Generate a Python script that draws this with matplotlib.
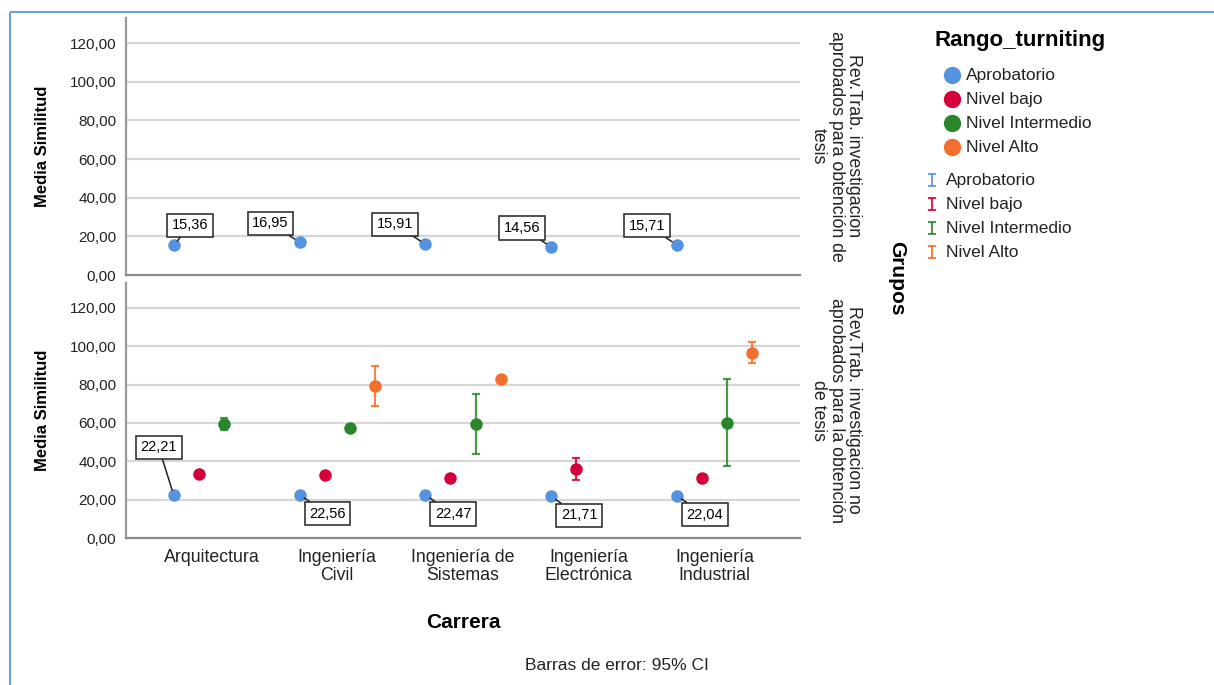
import numpy as np
import matplotlib
matplotlib.use("Agg")
import matplotlib.pyplot as plt
from matplotlib.patches import Rectangle

plt.rcParams['font.family'] = ['Liberation Sans', 'DejaVu Sans']

# data
carreras = ["Arquitectura", "Ingeniería\nCivil", "Ingeniería de\nSistemas",
            "Ingeniería\nElectrónica", "Ingeniería\nIndustrial"]
niveles = ["Aprobatorio", "Nivel bajo", "Nivel Intermedio", "Nivel Alto"]
colores = ["#5593e0", "#d4003a", "#2b862b", "#f2702d"]

# panel 1: aprobados
top_medias = {
    "Aprobatorio": [15.36, 16.95, 15.91, 14.56, 15.71],
}
# panel 2: no aprobados
bot_medias = {
    "Aprobatorio": [22.21, 22.56, 22.47, 21.71, 22.04],
    "Nivel bajo": [33.3, 32.9, 31.2, 35.9, 31.3],
    "Nivel Intermedio": [59.4, 57.6, 59.4, np.nan, 59.9],
    "Nivel Alto": [np.nan, 79.2, 82.9, np.nan, 96.6],
}
bot_ci_low = {
    "Nivel bajo": [np.nan, np.nan, np.nan, 30.1, np.nan],
    "Nivel Intermedio": [56.3, np.nan, 43.7, np.nan, 37.6],
    "Nivel Alto": [np.nan, 68.6, np.nan, np.nan, 91.4],
}
bot_ci_high = {
    "Nivel bajo": [np.nan, np.nan, np.nan, 41.9, np.nan],
    "Nivel Intermedio": [62.4, np.nan, 75.0, np.nan, 82.9],
    "Nivel Alto": [np.nan, 89.8, np.nan, np.nan, 102.2],
}
yticks = [0, 20, 40, 60, 80, 100, 120]

W, H = 1214, 685
def fx(x):
    return x / W
def fy(y):
    return 1 - y / H

fig = plt.figure(figsize=(W / 100, H / 100), dpi=100)

ax_top = fig.add_axes([fx(126), fy(275), fx(800) - fx(126), fy(18) - fy(275)])
ax_bot = fig.add_axes([fx(126), fy(538), fx(800) - fx(126), fy(283) - fy(538)])

offsets = [-0.3, -0.1, 0.1, 0.3]
xc = np.arange(len(carreras))

def fmt(v):
    return f"{v:.2f}".replace(".", ",")

def style(ax):
    ax.set_xlim(-0.68, 4.68)
    ax.set_ylim(0, 133)
    ax.set_yticks(yticks)
    ax.set_yticklabels([fmt(t) for t in yticks], fontsize=11, color="#222222")
    for t in yticks[1:]:
        ax.axhline(t, color="#d6d6d6", lw=1.6, zorder=0)
    for s in ["top", "right"]:
        ax.spines[s].set_visible(False)
    ax.spines["left"].set_color("#9a9a9a")
    ax.spines["bottom"].set_color("#8a8a8a")
    ax.spines["left"].set_linewidth(1.6)
    ax.spines["bottom"].set_linewidth(1.6)
    ax.tick_params(length=0, pad=7)
    ax.set_ylabel("Media Similitud", fontsize=12, fontweight="bold", labelpad=14)

def draw(ax, medias, lo=None, hi=None):
    for i, nv in enumerate(niveles):
        if nv not in medias:
            continue
        x = xc + offsets[i]
        y = np.array(medias[nv], dtype=float)
        if lo is not None and nv in lo:
            l = np.array(lo[nv]); h = np.array(hi[nv])
            m = ~np.isnan(l)
            ax.errorbar(x[m], y[m], yerr=[y[m] - l[m], h[m] - y[m]], fmt="none",
                        ecolor=colores[i], elinewidth=1.6, capsize=3, capthick=1.6,
                        alpha=0.85, zorder=3)
        ax.plot(x, y, "o", color=colores[i], markersize=9, markeredgewidth=0, zorder=4)

def labels(ax, vals, offs):
    for k, v in enumerate(vals):
        ax.annotate(fmt(v), xy=(xc[k] + offsets[0], v), xytext=offs[k],
                    textcoords="offset pixels", ha="center", va="center", fontsize=10.5,
                    bbox=dict(boxstyle="square,pad=0.32", fc="white", ec="#222222", lw=1.1),
                    arrowprops=dict(arrowstyle="-", color="#222222", lw=1.1,
                                    shrinkA=0, shrinkB=4), zorder=6)

style(ax_top)
style(ax_bot)
ax_top.set_xticks([])
ax_bot.set_xticks(xc)
ax_bot.set_xticklabels(carreras, fontsize=12.8, linespacing=1.05, color="#222222")
ax_bot.tick_params(axis="x", pad=8)

draw(ax_top, top_medias)
draw(ax_bot, bot_medias, bot_ci_low, bot_ci_high)

labels(ax_top, top_medias["Aprobatorio"], [(16, 20), (-29, 19), (-30, 20), (-29, 19), (-30, 19)])
labels(ax_bot, bot_medias["Aprobatorio"], [(-15, 48), (28, -19), (28, -19), (28, -19), (28, -19)])

# strip labels
fig.text(fx(836), fy(146), "Rev.Trab. investigacion\naprobados para obtención de\ntesis",
         rotation=270, ha="center", va="center", multialignment="center",
         fontsize=12.8, linespacing=1.02, color="#222222")
fig.text(fx(836), fy(410), "Rev.Trab. investigacion no\naprobados para la obtención\nde tesis",
         rotation=270, ha="center", va="center", multialignment="center",
         fontsize=12.8, linespacing=1.02, color="#222222")
fig.text(fx(897), fy(278), "Grupos", rotation=270, ha="center", va="center",
         fontsize=15, fontweight="bold")

fig.text(fx(463), fy(622), "Carrera", ha="center", va="center", fontsize=15, fontweight="bold")
fig.text(fx(617), fy(665), "Barras de error: 95% CI", ha="center", va="center",
         fontsize=12.5, color="#222222")

# legend drawn in pixel space
lax = fig.add_axes([0, 0, 1, 1])
lax.set_xlim(0, W)
lax.set_ylim(H, 0)
lax.axis("off")
lax.text(1020, 40, "Rango_turniting", ha="center", va="center", fontsize=16, fontweight="bold")
for i, nv in enumerate(niveles):
    yy = 75 + 24 * i
    lax.plot(952, yy, "o", color=colores[i], markersize=12.5, markeredgewidth=0)
    lax.text(966, yy, nv, ha="left", va="center", fontsize=12.5, color="#222222")
for i, nv in enumerate(niveles):
    yy = 180 + 24 * i
    lax.errorbar(932, yy, yerr=6, fmt="none", ecolor=colores[i], elinewidth=1.5,
                 capsize=3, capthick=1.5, alpha=0.85)
    lax.text(946, yy, nv, ha="left", va="center", fontsize=12.5, color="#222222")

lax.add_patch(Rectangle((10, 12), W, H, fill=False, ec="#6a9fd8", lw=1.5))

fig.savefig("out.png", dpi=100)
